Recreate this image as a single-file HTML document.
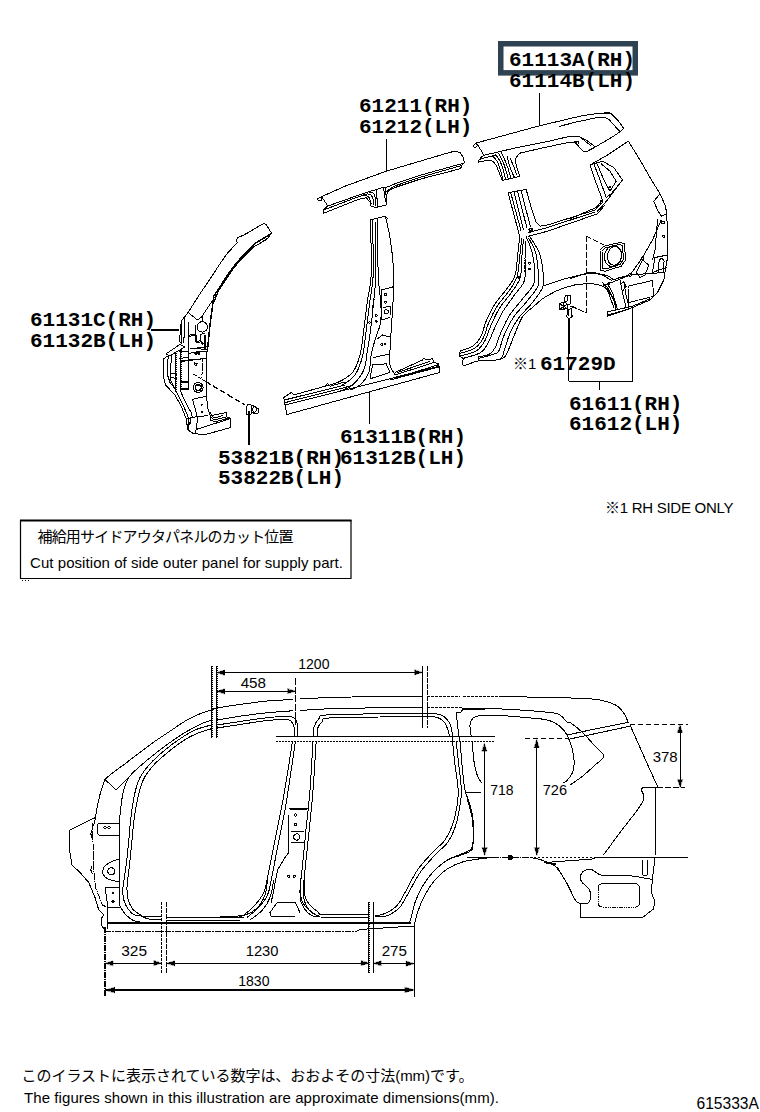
<!DOCTYPE html>
<html lang="ja">
<head>
<meta charset="utf-8">
<title>615333A</title>
<style>
html,body{margin:0;padding:0;background:#fff;}
body{width:760px;height:1112px;overflow:hidden;position:relative;}
svg{position:absolute;left:0;top:0;display:block;}
.pn{font-family:"Liberation Mono","DejaVu Sans Mono",monospace;font-weight:bold;font-size:21px;fill:#000;}
.sn{font-family:"Liberation Sans","Noto Sans CJK JP",sans-serif;font-size:15px;fill:#000;}
.jp{font-family:"Liberation Sans","Noto Sans CJK JP",sans-serif;font-size:15px;fill:#000;}
.dm{font-family:"Liberation Sans",sans-serif;font-size:15px;fill:#000;}
.ln{fill:none;stroke:#000;stroke-width:1;shape-rendering:crispEdges;stroke-linejoin:round;stroke-linecap:round;}
</style>
</head>
<body>
<svg width="760" height="1112" viewBox="0 0 760 1112">
<rect x="0" y="0" width="760" height="1112" fill="#fff"/>
<g id="labels">
<rect x="500.75" y="43.75" width="134.5" height="29.1" fill="none" stroke="#2e4251" stroke-width="5.5"/>
<text class="pn" x="509" y="66">61113A(RH)</text>
<text class="pn" x="509" y="87">61114B(LH)</text>
<text class="pn" x="359" y="112">61211(RH)</text>
<text class="pn" x="359" y="133">61212(LH)</text>
<text class="pn" x="30" y="326">61131C(RH)</text>
<text class="pn" x="30" y="347">61132B(LH)</text>
<text class="pn" x="340" y="443">61311B(RH)</text>
<text class="pn" x="218" y="464">53821B(RH)</text>
<text class="pn" x="340" y="464">61312B(LH)</text>
<text class="pn" x="218" y="484">53822B(LH)</text>
<text class="sn" x="513" y="369">※1</text>
<text class="pn" x="540" y="370">61729D</text>
<text class="pn" x="569" y="409.5">61611(RH)</text>
<text class="pn" x="569" y="429.5">61612(LH)</text>
<text class="sn" x="605" y="512.5" textLength="128.5" lengthAdjust="spacing">※1 RH SIDE ONLY</text>
<path d="M20.5 520 V578.5 H351 V520" fill="none" stroke="#000" stroke-width="1.2"/>
<path d="M20 520.5 H351.5" fill="none" stroke="#000" stroke-width="2"/>
<path d="M22 580.5h1M25 580.5h1M28 580.5h1" stroke="#000" stroke-width="1" shape-rendering="crispEdges"/>
<text class="jp" x="37.5" y="542" textLength="256" lengthAdjust="spacing">補給用サイドアウタパネルのカット位置</text>
<text class="sn" x="30" y="567.5" textLength="313" lengthAdjust="spacing">Cut position of side outer panel for supply part.</text>
<text class="jp" x="21.5" y="1080.5" textLength="452" lengthAdjust="spacing">このイラストに表示されている数字は、おおよその寸法(mm)です。</text>
<text class="sn" x="24" y="1103" textLength="475" lengthAdjust="spacing">The figures shown in this illustration are approximate dimensions(mm).</text>
<text class="sn" x="696.5" y="1109" style="font-size:15.6px">615333A</text>
</g>
<g class="ln" id="apillar">
<path d="M152 330 L178 330" stroke-width="1.4"/>
<path d="M263.2 223.7 L256.8 227.4 L248.4 232.6 L242.1 235.8 L237.9 237.4 L236.3 240 L237.4 242.6 L227.4 253.2 L220 263.7 L210.5 278.4 L200 293.7 L188.4 312.1"/>
<path d="M263.2 223.7 L265.8 224.2 L271.6 233.2 L268.4 237.4 L265.3 240.5 L262.1 242.1"/>
<path d="M270.5 234.2 L263.2 238.4 L254.7 243.7 L245.3 253.2 L235.8 263.7 L227.4 275.3 L220 286.8 L213.7 296.3 L212.1 309 L210 324.7 L207.4 351" stroke-width="1.5"/>
<path d="M268.4 237.6 L262.1 242.1 L253.7 246.8 L244.2 256.3 L234.7 266.8 L226.8 278.4 L220 288.4 L215.8 295.8 L213.2 299.5 L202.6 315.3"/>
<path d="M217.4 294.2 L213.5 303"/>
<path d="M188.1 312.5 L181.2 321.2 L180.6 330 L179.4 341.2 L181.9 343.8"/>
<path d="M188.1 312.5 L197.5 320 L202.5 316.2"/>
<path d="M202.5 316.2 L202 321.2"/>
<path d="M206.9 352.5 L206.2 378.8 L206.2 395 L208.1 410 L211.2 417.5"/>
<path d="M207.4 326.9 L207.1 328.8 L206.1 330.4 L204.6 331.5 L202.7 332.1 L200.8 331.9 L199.1 331 L197.8 329.6 L197.1 327.8 L197.1 325.9 L197.8 324.1 L199.1 322.7 L200.8 321.9 L202.7 321.7 L204.6 322.2 L206.1 323.4 L207.1 325Z"/>
<path d="M181.9 322.5 L181.9 342.5"/>
<path d="M185 316.2 L184.4 337.5"/>
<path d="M188.1 322.5 L188.1 360 L188.5 387.5"/>
<path d="M188.8 336.2 L196.2 335.6 L196.9 342.5 L201.2 341.9"/>
<path d="M190 348.1 L206.2 349.4"/>
<path d="M180 361.2 L188.8 360 L202.5 358.8"/>
<path d="M202.5 358.8 L201.9 377.5" stroke-dasharray="3 1.5"/>
<path d="M195 331.2 L195.6 341.2"/>
<path d="M205 335 L205.6 350"/>
<path d="M191.2 352.5 L205 351.2"/>
<path d="M196.4 353.8 L196.3 354.2 L195.9 354.5 L195.4 354.5 L195 354.2 L194.8 353.8 L195 353.3 L195.4 353 L195.9 353 L196.3 353.3Z"/>
<path d="M199.6 353.5 L199.4 354 L199 354.3 L198.5 354.3 L198.1 354 L197.9 353.5 L198.1 353 L198.5 352.7 L199 352.7 L199.4 353Z"/>
<path d="M196.6 364.4 L196.4 365 L195.9 365.3 L195.3 365.3 L194.8 365 L194.6 364.4 L194.8 363.8 L195.3 363.4 L195.9 363.4 L196.4 363.8Z"/>
<path d="M184.7 323.7 L183.7 342.6"/>
<path d="M190 348.9 L207.4 346.8"/>
<path d="M189.5 353.2 L207.4 351.1"/>
<path d="M179.5 351.1 L187.9 351.1"/>
<path d="M179.5 358.4 L187.9 357.4"/>
<path d="M180 361.6 L205.8 358.4"/>
<path d="M188.4 335.3 L195.3 334.2 L196.3 341.6 L200.5 340.5 L200.5 334.2 L204.7 333.7"/>
<path d="M195.3 325.8 L195.8 334.2"/>
<path d="M204.7 335.3 L204.2 348.9"/>
<path d="M170 373.2 L176.3 374.2"/>
<path d="M170 377.4 L176.3 378.4"/>
<path d="M180.5 382.6 L187.9 381.6"/>
<path d="M181.6 388.9 L188.4 388.9"/>
<path d="M203.2 343.2 L203 343.7 L202.6 344 L202 344 L201.6 343.7 L201.4 343.2 L201.6 342.6 L202 342.3 L202.6 342.3 L203 342.6Z"/>
<path d="M197 353.7 L196.9 354.1 L196.5 354.3 L196.1 354.3 L195.7 354.1 L195.6 353.7 L195.7 353.3 L196.1 353 L196.5 353 L196.9 353.3Z"/>
<path d="M199.3 353.2 L199.2 353.6 L198.8 353.8 L198.4 353.8 L198.1 353.6 L197.9 353.2 L198.1 352.7 L198.4 352.5 L198.8 352.5 L199.2 352.7Z"/>
<path d="M194.2 362.6 L197.4 363.7 L196.3 365.3"/>
<path d="M196.3 391.1 L201.6 390.5"/>
<path d="M197.9 385.3 L201.6 385.8 L201.6 388.9"/>
<path d="M166.2 353.8 L180 344.4 L185 346.9 L171.2 355 L167.5 355 L166.2 353.8"/>
<path d="M167.5 356.2 L163.8 358.8 L163.1 375 L165.6 385 L175 395 L181.2 406.2 L186.2 418.8"/>
<path d="M168.1 356.2 L167.5 375 L170 382.5 L176.2 390"/>
<path d="M171.2 355 L170.6 380 L176.9 392.5"/>
<path d="M175.5 353V392" stroke-linecap="butt"/>
<path d="M176 353.5h1M176 355.5h1M176 357.5h1M176 359.5h1M176 361.5h1M176 363.5h1M176 365.5h1M176 367.5h1M176 369.5h1M176 371.5h1M176 373.5h1M176 375.5h1M176 377.5h1M176 379.5h1M176 381.5h1M176 383.5h1M176 385.5h1M176 387.5h1M176 389.5h1M176 391.5h1" stroke-linecap="butt"/>
<path d="M180.5 350V390" stroke-linecap="butt"/>
<path d="M181 350.5h1M181 352.5h1M181 354.5h1M181 356.5h1M181 358.5h1M181 360.5h1M181 362.5h1M181 364.5h1M181 366.5h1M181 368.5h1M181 370.5h1M181 372.5h1M181 374.5h1M181 376.5h1M181 378.5h1M181 380.5h1M181 382.5h1M181 384.5h1M181 386.5h1M181 388.5h1" stroke-linecap="butt"/>
<path d="M180 381.2 L188.5 382.5"/>
<path d="M180 390 L188.5 389.4"/>
<path d="M176.9 392.5 L182.5 403.8 L187.5 415 L189.4 423.8"/>
<path d="M180 390 L186.2 403.8 L191.2 412.5 L192.5 417.5"/>
<path d="M186.2 418.8 L186.9 425 L188.1 430 L192.5 433.1 L203.8 435 L230.6 427.5 L230.6 418.1 L226.2 416.9 L226.2 412.5 L211.2 415.6"/>
<path d="M188.1 418.8 L188.1 430"/>
<path d="M186.2 418.8 L190 418.1 L190.6 423.8 L186.9 425"/>
<path d="M195 432.5 L196.2 429.4 L230 418.8"/>
<path d="M197.5 418.8 L196.2 429.4"/>
<path d="M211.2 417.5 L213.8 420 L226.2 416.9"/>
<path d="M210 412.5 L213.8 418.1 L222.5 415.6"/>
<path d="M211.2 415.6 L210 420 L215 421.9 L228.8 418.1"/>
<path d="M203.1 387.5 L202.8 389.3 L201.8 390.9 L200.4 392 L198.6 392.5 L196.8 392.3 L195.1 391.5 L193.9 390.1 L193.2 388.4 L193.2 386.6 L193.9 384.9 L195.1 383.5 L196.8 382.7 L198.6 382.5 L200.4 383 L201.8 384.1 L202.8 385.7Z"/>
<path d="M201.1 387.5 L200.7 389 L199.6 390.1 L198.1 390.5 L196.6 390.1 L195.5 389 L195.1 387.5 L195.5 386 L196.6 384.9 L198.1 384.5 L199.6 384.9 L200.7 386Z"/>
<path d="M206.2 396.2 L192.5 399.4"/>
<path d="M192.5 399.4 L196.2 412.5 L197.5 418.1"/>
<path d="M190 417.5 L207.5 415.6"/>
<path d="M202.7 405 L202.5 405.5 L202.1 405.8 L201.6 405.8 L201.2 405.5 L201.1 405 L201.2 404.5 L201.6 404.2 L202.1 404.2 L202.5 404.5Z"/>
<path d="M202.7 411.9 L202.5 412.3 L202.1 412.6 L201.6 412.6 L201.2 412.3 L201.1 411.9 L201.2 411.4 L201.6 411.1 L202.1 411.1 L202.5 411.4Z"/>
<path d="M193.8 374.4 L205 381.2" stroke-dasharray="3 2"/>
<path d="M205.8 381.6 L245 405" stroke-width="1.3" stroke-dasharray="5 3.5"/>
<path d="M246 414 L246 407 L248 404.5 L251 404.5 L251 414 L246 414"/>
<path d="M251 405 L256 407 L258.5 409 L258 413 L255 414 L252 412"/>
<path d="M256.3 409.5 L256 410.9 L255.2 411.9 L254.2 412.1 L253.3 411.5 L252.8 410.2 L252.8 408.8 L253.3 407.5 L254.2 406.9 L255.2 407.1 L256 408.1Z"/>
<path d="M249 412 L249 444" stroke-width="2"/>
</g>
<g class="ln" id="roofrail">
<path d="M386.2 139.5 L386.2 171.2"/>
<path d="M317.5 198.8 L322.5 196.2 L345 186.2 L386.2 171.2 L420 161.2 L445 153.8 L455.2 151 L460.5 153 L463.8 158.2 L464.2 163 L461.8 165.5 L461 167.5 L460 168.8"/>
<path d="M317.7 199.3 L319.7 197.4 L322.1 198.2 L321.3 200.5 L318.6 200.8 L317.7 199.3"/>
<path d="M322.1 197.4 C322.6 198.2 324.3 200.7 325.3 202.1 C326.2 203.6 327.2 205.4 327.6 206.1"/>
<path d="M327.6 206.1 L323.7 210 L323.7 213.2"/>
<path d="M327.6 206.1 L360 194.7 L369.5 191.4 L376.6 189.5"/>
<path d="M323.7 210 L360 196.1 L366.3 195.3 L369.5 197.7 L371.1 203.7"/>
<path d="M323.7 213.2 L358.4 199.3 L366.3 197.7 L370.3 202.4 L371.1 206.8 L377.4 207.2 L386.8 204.8 L386.1 195.8 L385.3 187.9"/>
<path d="M363.2 194.2 C364.2 194.2 367.9 193.7 369.5 194.2 C371.1 194.7 372 195.7 372.6 197.4 C373.3 199.1 373.3 203.3 373.4 204.5"/>
<path d="M369.5 192.3 C370.1 192.5 372.5 192.4 373.4 193.3 C374.3 194.1 374.7 195.4 375 197.4 C375.3 199.4 375.4 203.9 375.5 205.3"/>
<path d="M376.6 189.5 L377.4 206.8"/>
<path d="M376.6 189.5 L383.7 187.1 L385.3 187.9"/>
<path d="M383.7 187.1 L384.5 195.8 L386.8 204.5"/>
<path d="M386.1 195.8 L388.4 190.7 L394.7 187.6 L420 179.2 L460 168.8"/>
<path d="M385.3 187.9 L394.7 183.9 L420 175.3 L464.2 163"/>
<path d="M386.5 191.4 L394.7 186 L420 177.3 L461.8 165.5"/>
</g>
<g class="ln" id="bpillar">
<path d="M369.5 391.2 L369.5 423.2"/>
<path d="M370 220 L385 216.2 L387.5 218.8"/>
<path d="M385.5 217 C386.2 220.4 388.8 229.9 390 237.5 C391.2 245.1 392.4 254.2 393 262.5 C393.6 270.8 393.8 279.6 393.8 287.5 C393.7 295.4 392.9 302.9 392.5 310 C392.1 317.1 391.7 323.3 391.2 330 C390.8 336.7 390.2 344.2 390 350 C389.8 355.8 389.2 360.8 390 365 C390.8 369.2 394.2 373.3 395 375"/>
<path d="M370.5 220 C370.6 229.2 371.8 261.7 371.2 275 C370.8 288.3 368.8 290.8 367.5 300 C366.2 309.2 365 320.8 363.8 330 C362.5 339.2 361.9 347.9 360 355 C358.1 362.1 356.2 367.9 352.5 372.5 C348.8 377.1 342.9 380 337.5 382.5 C332.1 385 322.9 386.7 320 387.5"/>
<path d="M372.5 220 C372.6 229.2 373.7 261.7 373.2 275 C372.8 288.3 371.2 290.8 370 300 C368.8 309.2 367.5 320.6 366.2 330 C365 339.4 364.4 348.8 362.5 356.2 C360.6 363.8 358.3 370.2 355 375 C351.7 379.8 344.6 383.3 342.5 385"/>
<path d="M375 220 C375.1 229.2 376 261.7 375.8 275 C375.5 288.3 374.5 291.7 373.8 300 C373 308.3 372.3 316.7 371.2 325 C370.2 333.3 368.8 342.5 367.5 350 C366.2 357.5 366.2 364.2 363.8 370 C361.2 375.8 356.5 381.5 352.5 385 C348.5 388.5 342.1 390.2 340 391.2"/>
<path d="M377.5 220 C377.6 229.2 377.8 262.5 378.2 275 C378.7 287.5 379.5 288.8 380 295 C380.5 301.2 381.2 307.5 381.2 312.5 C381.2 317.5 381 320.4 380 325 C379 329.6 376.5 335 375 340 C373.5 345 372.3 349.6 371.2 355 C370.2 360.4 370.6 367.5 368.8 372.5 C366.9 377.5 363.1 382.1 360 385 C356.9 387.9 351.7 389.2 350 390"/>
<path d="M381.2 290 L392.5 287"/>
<path d="M381.2 290 L382 320 L390 317.5"/>
<path d="M386.5 294.5 L386.3 295.1 L385.8 295.5 L385.2 295.5 L384.7 295.1 L384.5 294.5 L384.7 293.9 L385.2 293.5 L385.8 293.5 L386.3 293.9Z"/>
<path d="M386.5 302 L386.3 302.6 L385.8 303 L385.2 303 L384.7 302.6 L384.5 302 L384.7 301.4 L385.2 301 L385.8 301 L386.3 301.4Z"/>
<path d="M388.4 311.8 L388 313 L386.9 313.8 L385.6 313.8 L384.5 313 L384.1 311.8 L384.5 310.5 L385.6 309.7 L386.9 309.7 L388 310.5Z"/>
<path d="M383.8 307.5 L390 306.2 L390.5 315"/>
<path d="M370.4 322.5 L370.2 323 L369.8 323.4 L369.2 323.4 L368.8 323 L368.6 322.5 L368.8 322 L369.2 321.6 L369.8 321.6 L370.2 322Z"/>
<path d="M377.1 315.5 L377 316 L376.5 316.4 L376 316.4 L375.5 316 L375.4 315.5 L375.5 315 L376 314.6 L376.5 314.6 L377 315Z"/>
<path d="M377.1 321.2 L377 321.8 L376.5 322.1 L376 322.1 L375.5 321.8 L375.4 321.2 L375.5 320.7 L376 320.4 L376.5 320.4 L377 320.7Z"/>
<path d="M377.5 338.8 L382.5 335 L390 337"/>
<path d="M373.8 357.5 L390 353.8"/>
<path d="M382.6 344.5 L382.4 345 L382 345.3 L381.5 345.3 L381.1 345 L380.9 344.5 L381.1 344 L381.5 343.7 L382 343.7 L382.4 344Z"/>
<path d="M385.8 344 L385.6 344.5 L385.2 344.8 L384.8 344.8 L384.4 344.5 L384.2 344 L384.4 343.5 L384.8 343.2 L385.2 343.2 L385.6 343.5Z"/>
<path d="M372.5 365 L386.2 363.8 L390 372.5 L370 378.8 L372.5 365"/>
<path d="M375 295 L372.5 307.5" stroke-dasharray="1 1"/>
<path d="M283.8 397.5 L291.2 392.5 L293.8 395 L325 386.2 L327.5 383.8 L330 386.2 L345 382"/>
<path d="M395 372.5 L422.5 360 L423.8 358 L426.2 360 L432.5 358.8 L433.8 362.5 L438.8 363.8 L439.5 372.5 L287 414.5 L285 405 L283.8 397.5"/>
<path d="M285 405 L370 383.8 L438.8 366.2"/>
<path d="M284.5 400 L345 385"/>
<path d="M285.5 402.5 L352.5 385.5"/>
<path d="M395 375 L433.8 362.5"/>
<path d="M396.2 378 L437.5 365"/>
<path d="M390 380 L438.8 367"/>
<path d="M397.5 372.5 L430 361.2"/>
</g>
<g class="ln" id="quarter_upper">
<path d="M539.5 93 L539.5 125.7"/>
<path d="M475.5 143.2 L539.5 125.8 L580 116.2 L600 113 L610 113 L604 112 L611.2 113.7 L618.4 120.9 L623.5 128.2 L621.3 131 L612.6 136.8 L595.3 147 L590 150"/>
<path d="M475.5 143.2 L473.4 145.8 L474.5 147.4 L476.6 146.8 L477.6 144.7 L475.5 143.2"/>
<path d="M477.6 144.7 C478.2 145.6 479.7 148.2 480.8 150 C481.8 151.8 483.4 154.4 483.9 155.3"/>
<path d="M483.9 155.3 L480.8 157.4 L480.8 158.9 L492.4 155.8 L495.5 154.7"/>
<path d="M478.7 160.5 L480.8 158.9"/>
<path d="M483.9 155.3 L499.7 151.6 L517.6 147.4 L545 142.1 L570.7 136.1 L579.3 136.6 L588 141.2 L595.3 147"/>
<path d="M559.1 126.4 L577.9 121.6 L595.3 118 L604 117 L609 119.5 L614.8 126 L619.6 131.3"/>
<path d="M579.3 136.6 L590.9 145.5"/>
<path d="M478.7 160.5 L478.7 162.1 L489.2 160 L493.4 161.6 L496.6 165.8 L499.7 174.2 L502.4 180.5 L519.7 176.3 L517.6 170 L515.5 161.6 L516.1 157.4 L519.7 153.2 L540 148.5 L567.8 142.6 L575.7 141.9 L577.9 145.5 L583.7 152 L587.3 151.3 L593 148"/>
<path d="M492.4 155.8 C493.1 156.6 495.4 158.5 496.6 160.5 C497.8 162.5 498.7 164.7 499.7 167.9 C500.8 171.1 502.4 177.5 502.9 179.5"/>
<path d="M495.5 154.7 C496.2 155.7 498.5 158.2 499.7 160.5 C501 162.9 501.9 165.9 502.9 168.9 C503.9 172 505.1 177.3 505.5 178.9"/>
<path d="M498.7 153.7 C499.3 154.8 501.2 158 502.4 160.5 C503.5 163.1 504.6 166 505.5 168.9 C506.5 171.9 507.7 176.8 508.2 178.4"/>
<path d="M501.3 152.6 C501.9 153.9 503.9 157.8 505 160.5 C506.1 163.2 507.2 166.1 508.2 168.9 C509.1 171.8 510.4 176.4 510.8 177.9"/>
<path d="M507.1 156.3 C507.5 157.7 508.3 161.9 509.2 164.7 C510.1 167.5 511.5 171.1 512.4 173.2 C513.2 175.3 514.1 176.7 514.5 177.4"/>
<path d="M510.3 158.4 C510.8 159.6 512.4 163.2 513.4 165.8 C514.5 168.4 516.1 172.8 516.6 174.2"/>
<path d="M578.7 142.8 L578.4 143.7 L577.7 144.2 L576.7 144.2 L576 143.7 L575.7 142.8 L576 141.9 L576.7 141.4 L577.7 141.4 L578.4 141.9Z"/>
</g>
<g class="ln" id="quarter">
<path d="M508.1 192.8 L526 189.4"/>
<path d="M508.1 192.8 L518.3 231.2 L519.7 236.4"/>
<path d="M510.6 192.3 L520.9 230.4"/>
<path d="M514 191.6 L523.4 229.5"/>
<path d="M517.5 191.1 L526.9 227.8"/>
<path d="M520.9 190.2 L530.3 226.1"/>
<path d="M529.4 228.7 L532 228.3 L532.3 230.9 L529.8 231.2 L529.4 228.7"/>
<path d="M526.2 189.5 L531.2 207.5 L536.2 222.5 L540 226.2 L547.5 225 L595 210 L602.5 202.5 L602.5 200"/>
<path d="M528.8 236.2 L547.5 231.2 L597.5 213.8 L605 205 L597.5 211.2 L607.5 200 L622.5 180"/>
<path d="M528.8 232.5 L547.5 227.5 L595 212"/>
<path d="M531.2 229.5 L531 230.2 L530.4 230.6 L529.6 230.6 L529 230.2 L528.8 229.5 L529 228.8 L529.6 228.4 L530.4 228.4 L531 228.8Z"/>
<path d="M590 165 L607.5 155 L626.2 142.5 L628.8 141.2 L630 143.8 L640 160 L650 177.5 L660 193.8 L653.8 201.2 L657.5 210 L661.2 216.2 L666.2 213.8 L667.5 225 L668 255 L666.2 265 L663.8 280 L657.5 292.5 L650 300 L632.5 307.5 L607.5 316.2 L607 312 L617.5 309.5 L612.5 297.5 L607.5 287.5 L602.5 282.5"/>
<path d="M660 193.8 L665 205 L667 213.8"/>
<path d="M590 165 L595 180 L602.5 200 L596.2 207.5 L570 218.8"/>
<path d="M593.8 163.8 L600 180 L606.2 197.5 L611.2 193.8 L622.5 180 L613.8 167.5 L602.5 161.2 L590 165"/>
<path d="M597.5 164.5 L603.8 180 L610 191.2 L616.2 181.2 L610 171.2 L601.2 163.8"/>
<path d="M611 187 L610.8 187.6 L610.3 188 L609.7 188 L609.2 187.6 L609 187 L609.2 186.4 L609.7 186 L610.3 186 L610.8 186.4Z"/>
<path d="M602.6 202 L602.4 202.8 L601.7 203.3 L600.8 203.3 L600.1 202.8 L599.9 202 L600.1 201.2 L600.8 200.7 L601.7 200.7 L602.4 201.2Z"/>
<path d="M586.2 236.2 L603.8 245" stroke-dasharray="5 3"/>
<path d="M586.2 236.2 L586.2 312.5 L570 306.2" stroke-dasharray="5 3"/>
<path d="M600 250 L603.8 246.2 L620 242.5 L624.5 243.8 L625.5 260 L621.2 266.2 L605 271.2 L600.5 270 L600 250"/>
<path d="M602 251.2 L605 248 L619.5 244.5 L622.5 245.5 L623.5 259.5 L620 264.5 L605.5 269 L602.5 268 L602 251.2"/>
<path d="M621.4 257.7 L620.8 259.9 L619.8 261.9 L618.6 263.7 L617 265.1 L615.3 266.1 L613.5 266.6 L611.6 266.7 L609.8 266.2 L608.2 265.3 L606.8 264 L605.7 262.3 L604.9 260.3 L604.5 258.2 L604.5 255.9 L604.9 253.7 L605.6 251.5 L606.8 249.7 L608.2 248.1 L609.8 246.9 L611.6 246.1 L613.4 245.8 L615.3 246 L617 246.7 L618.5 247.8 L619.8 249.3 L620.8 251.2 L621.4 253.2 L621.6 255.5Z"/>
<path d="M621.4 257 L620.8 259.2 L619.8 261.2 L618.6 262.9 L617.1 264.1 L615.4 264.9 L613.7 265.2 L612 264.9 L610.5 264.1 L609.2 262.8 L608.2 261 L607.6 259 L607.4 256.8 L607.6 254.5 L608.2 252.3 L609.2 250.3 L610.4 248.6 L611.9 247.4 L613.6 246.6 L615.3 246.3 L617 246.6 L618.5 247.4 L619.8 248.7 L620.8 250.5 L621.4 252.5 L621.6 254.7Z"/>
<path d="M570 278.8 C573.3 277.7 584.6 273.1 590 272.5 C595.4 271.9 599 273.8 602.5 275 C606 276.2 608.3 279.6 611.2 280 C614.2 280.4 616.9 278.3 620 277.5 C623.1 276.7 628.3 275.4 630 275"/>
<path d="M602.5 282.5 L607.5 290 L613.8 307.5"/>
<path d="M607.5 283.8 L612.5 292.5 L617.5 309.5"/>
<path d="M610 283.8 L609.7 284.5 L609.1 284.9 L608.4 284.9 L607.8 284.5 L607.5 283.8 L607.8 283 L608.4 282.6 L609.1 282.6 L609.7 283Z"/>
<path d="M661.2 220 L652.5 240 L642.5 257.5 L630 275"/>
<path d="M657.5 220 L655 250 L652.5 260"/>
<path d="M667.5 255 L655 257.5 L652.5 272.5 L666.2 267.5"/>
<rect x="658.8" y="258.8" width="5" height="14" rx="2.5" ry="2.5" transform="rotate(4 661.2 265)"/>
<path d="M642.5 260 L648.8 265 L645 275 L640 277.5 L636.2 272.5 L642.5 260"/>
<path d="M664.5 222.5 L664.2 223.4 L663.5 223.9 L662.5 223.9 L661.8 223.4 L661.5 222.5 L661.8 221.6 L662.5 221.1 L663.5 221.1 L664.2 221.6Z"/>
<path d="M665 236.2 L664.7 237 L664.1 237.4 L663.4 237.4 L662.8 237 L662.5 236.2 L662.8 235.5 L663.4 235.1 L664.1 235.1 L664.7 235.5Z"/>
<path d="M643.7 258.8 L643.5 259.5 L642.9 259.9 L642.1 259.9 L641.5 259.5 L641.3 258.8 L641.5 258 L642.1 257.6 L642.9 257.6 L643.5 258Z"/>
<path d="M631.4 275 L631.1 275.8 L630.4 276.3 L629.6 276.3 L628.9 275.8 L628.6 275 L628.9 274.2 L629.6 273.7 L630.4 273.7 L631.1 274.2Z"/>
<path d="M630 275 L663.8 272.5"/>
<path d="M620 280 L622.5 292.5 L626.2 307.5"/>
<path d="M623.8 281.2 L625.5 292.5 L628.8 306.2"/>
<path d="M628 286.2 L652.5 280.5 L653.8 296.2 L628.8 302.5 L628 286.2" stroke-dasharray="2 1"/>
<path d="M620 283.8 L623.8 282 L626.2 286.2 L622.5 291.2"/>
<path d="M607 312 L632.5 306.2 L650 298.8"/>
<path d="M632.5 307.5 L632.5 381"/>
<path d="M519.7 236.4 C519.3 239.8 518.3 250.3 517.5 256.9 C516.7 263.4 516.8 270.2 514.9 275.6 C513.1 281.1 509.8 284.5 506.4 289.3 C502.9 294.1 497.8 299.3 494.4 304.7 C491 310.1 488.1 316.4 485.9 321.8 C483.6 327.2 483 333 480.7 337.1 C478.5 341.3 475.6 344.2 472.2 346.5 C468.8 348.8 462.2 350.1 460.2 350.8"/>
<path d="M521.7 238.1 C521.4 241.2 520.5 250.5 519.7 256.9 C518.9 263.3 518.9 270.8 517.1 276.5 C515.3 282.2 512.3 286 508.9 291 C505.6 296 500.4 301 497 306.4 C493.6 311.8 490.7 318.2 488.4 323.5 C486.2 328.7 485.6 333.9 483.3 338 C481 342.1 478.7 345.7 474.8 348.2 C470.9 350.8 462.4 352.5 459.9 353.4"/>
<path d="M523.4 239.8 C523.2 242.9 522.3 252.2 521.7 258.6 C521.2 265 521.9 272.4 520 278.2 C518.2 284 514 288.6 510.6 293.6 C507.2 298.6 502.8 302.8 499.5 308.1 C496.3 313.4 493.4 319.8 491 325.2 C488.6 330.6 487.4 336.3 485 340.5 C482.6 344.8 480.6 348.2 476.5 350.8 C472.3 353.4 463 355.1 460.2 355.9"/>
<path d="M525.1 241.5 C525.3 244.3 526.1 252 526 258.6 C525.9 265.1 526.1 274.8 524.3 280.8 C522.4 286.7 518.5 289.3 514.9 294.4 C511.3 299.6 506.4 305.8 502.9 311.5 C499.5 317.2 496.8 323.5 494.4 328.6 C492 333.7 490.7 338.3 488.4 342.3 C486.2 346.2 485 349.8 480.7 352.5 C476.5 355.2 465.8 357.5 462.8 358.5"/>
<path d="M526 236.4 C527 238.9 530.6 246.3 532 251.7 C533.4 257.1 534.3 263.4 534.5 268.8 C534.8 274.2 535.5 279.3 533.7 284.2 C531.8 289 527.4 292.7 523.4 297.8 C519.5 303 513.6 308.9 509.8 314.9 C505.9 320.9 502.8 328.3 500.4 333.7 C498 339.1 497.1 344 495.3 347.4 C493.4 350.8 492.1 352.6 489.3 354.2 C486.4 355.8 480 356.3 478.2 356.8"/>
<path d="M528.6 238.1 C529.7 240.3 533.8 246.6 535.4 251.7 C537 256.9 537.5 263.1 538 268.8 C538.4 274.5 539.8 280.5 538 285.9 C536.1 291.3 530.8 296.1 526.9 301.3 C522.9 306.4 517.7 311.2 514 316.6 C510.3 322 507.1 328.3 504.7 333.7 C502.2 339.1 501 345.8 499.5 349.1 C498.1 352.4 499.7 351.8 496.1 353.4 C492.6 354.9 481.2 357.6 478.2 358.5"/>
<path d="M530.3 237.2 C531.7 239.6 536.8 247 538.8 251.7 C540.8 256.4 541.5 259.7 542.2 265.4 C542.9 271.1 544.8 279.6 543.1 285.9 C541.4 292.2 536.1 297.6 532 303 C527.9 308.4 522 313.2 518.3 318.3 C514.6 323.5 512.1 328.6 509.8 333.7 C507.5 338.8 506.4 344.8 504.7 349.1 C502.9 353.4 503.9 357.3 499.5 359.3 C495.1 361.3 484.2 360 478.2 361 C472.2 362 466.1 365.7 463.7 365.3 C461.2 364.9 463.4 359.6 463.3 358.5"/>
<path d="M460.2 350.8 L459.4 355.9 L463.3 358.5"/>
<path d="M478.2 356.8 L478.2 361"/>
<path d="M525.1 255.1 L524.6 272.2" stroke-dasharray="1 1.5"/>
<path d="M530.3 263.2 L530.1 263.7 L529.7 264 L529.1 264 L528.7 263.7 L528.5 263.2 L528.7 262.6 L529.1 262.3 L529.7 262.3 L530.1 262.6Z"/>
<path d="M530.3 268.8 L530.1 269.3 L529.7 269.7 L529.1 269.7 L528.7 269.3 L528.5 268.8 L528.7 268.3 L529.1 268 L529.7 268 L530.1 268.3Z"/>
<path d="M519.3 277 L519.1 277.6 L518.6 278 L518 278 L517.5 277.6 L517.3 277 L517.5 276.4 L518 276.1 L518.6 276.1 L519.1 276.4Z"/>
<path d="M542.5 286.2 C546.2 285 557.5 280.8 565 278.8 C572.5 276.7 580.8 274.4 587.5 273.8 C594.2 273.1 600.8 274.2 605 275 C609.2 275.8 611.2 278.1 612.5 278.8"/>
<path d="M499.9 359.7 C500.8 359 503.8 358.3 505.5 355.9 C507.2 353.6 508.6 349.4 510.1 345.7 C511.7 342 512.8 338.6 514.9 333.7 C517 328.9 519.5 321.2 522.6 316.6 C525.7 312.1 529.8 309.7 533.7 306.4 C537.5 303.1 540.4 299.8 545.6 296.7 C550.9 293.5 558.4 289.7 565 287.5 C571.6 285.3 578.8 284 585 283.8 C591.2 283.5 597.9 284 602.5 286.2 C607.1 288.5 610.2 293.5 612.5 297.5 C614.8 301.5 615.6 307.9 616.2 310"/>
<path d="M602.5 286.2 L630 275"/>
<path d="M607.5 315 L630 308.8"/>
<path d="M607.5 311.2 L607.5 315.5"/>
<path d="M564.3 297.6 L566.3 295.3 L570.7 295.3 L570.7 303.9 L567.9 304.7"/>
<path d="M564.3 297.6 L564.7 302 L567.9 300.8 L567.5 296.1"/>
<path d="M559.2 303.6 L564.7 302 L567.9 304.7 L567.9 308.7 L559.2 309.5 L559.2 303.6"/>
<path d="M559.6 303.9 L567.5 308.7"/>
<path d="M560 309.1 L567.1 304.3"/>
<path d="M563.2 302.8 L563.6 309.1"/>
<path d="M567.1 309.5 L571.8 308.7 L571.8 315.4 L572.6 316.2 L569.1 318.9 L565.9 315.8 L567.1 315 L567.1 309.5"/>
<path d="M568.7 311.1 L568.7 315" stroke-width="1.4"/>
<path d="M569 318.5 L569 353" stroke-width="2"/>
<path d="M568.5 353 L568.5 381"/>
<path d="M571.8 306.2 L586.8 313" stroke-dasharray="5 3.5"/>
<path d="M568.5 381 L632.5 381"/>
<path d="M599.5 381 L599.5 390"/>
</g>
<g class="ln" id="car">
<path d="M105 779.5 C105.8 778.8 106.7 777.6 110 775 C113.3 772.4 120 767.5 125 763.8 C130 760 135 756.2 140 752.5 C145 748.8 150 744.8 155 741.2 C160 737.7 165 734.6 170 731.2 C175 727.9 180 724.2 185 721.2 C190 718.3 195.6 715.6 200 713.8 C204.4 711.9 208.4 711 211.2 710 C214.1 709 212.2 708.9 217 708 C221.8 707.1 232 705.6 240 704.5 C248 703.4 256.2 702.1 265 701.2 C273.8 700.4 287.9 699.8 292.5 699.5"/>
<path d="M300 699 C305 698.8 316.7 697.9 330 697.5 C343.3 697.1 364.6 696.7 380 696.5 C395.4 696.3 415.4 696.5 422.5 696.5"/>
<path d="M427.5 696.5 L460 696 L500 696.2" stroke-dasharray="2 2"/>
<path d="M500 696.5 C508.3 696.7 535 697.1 550 697.5 C565 697.9 580.8 698.1 590 698.8 C599.2 699.4 600.4 700 605 701.2 C609.6 702.5 614.2 704 617.5 706.2 C620.8 708.5 623.2 712.3 625 715 C626.8 717.7 627.5 721.2 628 722.5"/>
<path d="M105 779.5 L116.2 790 L128.8 777"/>
<path d="M105 779.5 L100.5 792.5 L97.5 805 L95.5 817.5 L80 825 L70 830 L69.2 840 L69.5 850 L72 865 L80 872.5 L88.8 882.5 L95 897.5 L98.8 910 L103.8 915 L101.2 918.8 L102 926.2 L105 930"/>
<path d="M95.5 817.5 L94.5 822.5 L92.5 827.5"/>
<path d="M211.2 720 C209.4 720.8 204.4 722.4 200 724.5 C195.6 726.6 190 729.5 185 732.5 C180 735.5 175 739 170 742.5 C165 746 160 749.8 155 753.8 C150 757.7 144.4 762.3 140 766.2 C135.6 770.2 131.5 773.5 128.8 777.5 C126 781.5 125.1 784.6 123.8 790 C122.4 795.4 121.2 803.3 120.5 810 C119.8 816.7 119.7 814.2 119.5 830 C119.3 845.8 119.5 892.5 119.5 905"/>
<path d="M217 720 C220.8 719.4 232 717.4 240 716.2 C248 715.1 256.2 713.9 265 713 C273.8 712.1 287.9 711.1 292.5 710.8"/>
<path d="M300 710.5 C305 710.2 316.7 709.2 330 708.8 C343.3 708.3 364.6 708 380 707.8 C395.4 707.5 415.4 707.1 422.5 707"/>
<path d="M380 707.8 L422.5 707.2" stroke-dasharray="2 2"/>
<path d="M427.5 707.5 L462.5 708" stroke-dasharray="2 2"/>
<path d="M211.2 725 C208.5 725.8 200.2 727.7 195 730 C189.8 732.3 185 735.4 180 738.8 C175 742.1 170 745.8 165 750 C160 754.2 154.2 759.2 150 763.8 C145.8 768.3 142.5 772.7 140 777.5 C137.5 782.3 136.5 786.2 135 792.5 C133.5 798.8 132.3 807.1 131.2 815 C130.2 822.9 129.6 831.7 128.8 840 C127.9 848.3 127.2 857.1 126.2 865 C125.3 872.9 123.4 881.7 123 887.5 C122.6 893.3 122.8 896.2 123.8 900 C124.7 903.8 126.9 907.5 128.8 910 C130.6 912.5 132.3 914 135 915 C137.7 916 140.6 916 145 916.2 C149.4 916.5 158.5 916.5 161.2 916.5"/>
<path d="M211.2 728.8 C208.8 729.6 201 731.7 196.2 733.8 C191.5 735.8 187.3 738.1 182.5 741.2 C177.7 744.4 172.3 748.5 167.5 752.5 C162.7 756.5 157.7 760.6 153.8 765 C149.8 769.4 146.2 774 143.8 778.8 C141.2 783.5 140.3 787.5 138.8 793.8 C137.2 800 135.6 808.5 134.5 816.2 C133.4 824 132.8 831.9 132 840 C131.2 848.1 130.3 857.1 129.5 865 C128.7 872.9 127.2 881.9 127 887.5 C126.8 893.1 127.1 895.2 128 898.8 C128.9 902.3 130.7 906.2 132.5 908.8 C134.3 911.2 136.2 912.1 138.8 913.8 C141.2 915.4 143.8 917.9 147.5 918.8 C151.2 919.6 159 919 161.2 919"/>
<path d="M217 725 C220.8 724.4 232 722.7 240 721.5 C248 720.3 257.1 718.9 265 718 C272.9 717.1 282.7 716.2 287.5 716.2 C292.3 716.2 292.1 716.8 293.8 718 C295.4 719.2 296.8 720.7 297.5 723.8 C298.2 726.8 297.9 734.2 298 736.2"/>
<path d="M217 728 C220.8 727.4 232 725.7 240 724.5 C248 723.3 257.3 721.6 265 720.8 C272.7 719.9 281.9 719.4 286.2 719.5 C290.6 719.6 290 720.2 291.2 721.5 C292.5 722.8 293.5 724.5 294 727 C294.5 729.5 294.4 734.7 294.5 736.2"/>
<path d="M276 736.5 L494.5 736.5"/>
<path d="M276 741.5 L494.5 741.5" stroke-dasharray="2 1"/>
<path d="M525 738.2 L568.8 738.2" stroke-dasharray="5 3"/>
<path d="M292.5 741.2 C291.9 745.2 290.4 754.8 288.8 765 C287.1 775.2 284.8 790 282.5 802.5 C280.2 815 277.5 827.5 275 840 C272.5 852.5 269.4 868.8 267.5 877.5 C265.6 886.2 265.8 887.9 263.8 892.5 C261.7 897.1 258.3 901.2 255 905 C251.7 908.8 246.7 912.9 243.8 915 C240.8 917.1 238.5 917.1 237.5 917.5"/>
<path d="M295.5 741.2 C294.8 746 293 758.5 291.2 770 C289.5 781.5 287.3 797.1 285 810 C282.7 822.9 279.8 835.8 277.5 847.5 C275.2 859.2 272.9 872.1 271.2 880 C269.6 887.9 269.6 890.4 267.5 895 C265.4 899.6 262.1 903.8 258.8 907.5 C255.4 911.2 249.4 915.4 247.5 917"/>
<path d="M313 741.2 C312.5 749.4 311.1 775.6 310 790 C308.9 804.4 307.5 815 306.2 827.5 C305 840 303.5 854.6 302.5 865 C301.5 875.4 300.2 883.8 300 890 C299.8 896.2 300 898.8 301.2 902.5 C302.5 906.2 305.2 910.1 307.5 912.5 C309.8 914.9 313.8 916.2 315 917"/>
<path d="M316.2 741.2 C315.7 749.4 314.1 775.6 313 790 C311.9 804.4 310.8 815 309.5 827.5 C308.2 840 306.5 854.6 305.5 865 C304.5 875.4 303.4 884 303.2 890 C303.1 896 303.4 897.7 304.5 901.2 C305.6 904.8 307.6 908.8 310 911.2 C312.4 913.8 317.3 915.4 318.8 916.2"/>
<path d="M313 736.2 C313.1 734.8 312.8 730.4 313.8 727.5 C314.7 724.6 316.7 720.8 318.8 718.8 C320.8 716.7 316 715.8 326.2 715 C336.5 714.2 364 714 380 713.8 C396 713.5 412.5 713.1 422.5 713.2 C432.5 713.4 435.8 713.4 440 714.5 C444.2 715.6 445.6 717.8 447.5 720 C449.4 722.2 450.4 724.8 451.2 727.5 C452.1 730.2 452.3 734.8 452.5 736.2"/>
<path d="M317 736.2 C317.2 734.8 317.1 730 318 727.5 C318.9 725 320.7 722.8 322.5 721.2 C324.3 719.7 319.2 718.7 328.8 718 C338.3 717.3 364.4 717.2 380 717 C395.6 716.8 412.9 716.4 422.5 716.5 C432.1 716.6 433.8 716.5 437.5 717.5 C441.2 718.5 442.8 720.4 444.5 722.5 C446.2 724.6 447.2 727.7 448 730 C448.8 732.3 449.2 735.2 449.5 736.2"/>
<path d="M290 808.8 L307 808.8" stroke-width="1.5"/>
<path d="M288.8 815 L288.8 852.5 L285 857.5 L277.5 870 L273.8 890 L271.2 902.5"/>
<path d="M291.2 831.2 L303.8 831.2"/>
<path d="M291.2 842.5 L303.8 842.5"/>
<path d="M299.9 837 L299.6 838.5 L298.6 839.6 L297.1 840.2 L295.6 840 L294.4 839.1 L293.6 837.8 L293.6 836.2 L294.4 834.9 L295.6 834 L297.1 833.8 L298.6 834.4 L299.6 835.5Z"/>
<path d="M296.7 815 L296.5 815.7 L295.9 816.1 L295.1 816.1 L294.5 815.7 L294.3 815 L294.5 814.3 L295.1 813.9 L295.9 813.9 L296.5 814.3Z"/>
<path d="M296.7 824.5 L296.5 825.2 L295.9 825.6 L295.1 825.6 L294.5 825.2 L294.3 824.5 L294.5 823.8 L295.1 823.4 L295.9 823.4 L296.5 823.8Z"/>
<path d="M289.8 876.2 L289.6 876.8 L289.1 877.2 L288.4 877.2 L287.9 876.8 L287.8 876.2 L287.9 875.7 L288.4 875.3 L289.1 875.3 L289.6 875.7Z"/>
<path d="M295.2 876.2 L295.1 876.8 L294.6 877.2 L293.9 877.2 L293.4 876.8 L293.2 876.2 L293.4 875.7 L293.9 875.3 L294.6 875.3 L295.1 875.7Z"/>
<path d="M270 912.5 L277.5 902 L295 902 L300 912.5"/>
<path d="M270 912.5 L271.2 916.2 L295 916.2"/>
<path d="M267.5 880 C267.1 882.5 266.7 890.4 265 895 C263.3 899.6 260.8 904.2 257.5 907.5 C254.2 910.8 251.2 913.4 245 915 C238.8 916.6 233.1 916.7 220 917 C206.9 917.3 175.2 917 166.2 917"/>
<path d="M273.8 880 C273.1 882.9 271.9 892.5 270 897.5 C268.1 902.5 265.8 906.2 262.5 910 C259.2 913.8 252.1 918.3 250 920"/>
<path d="M300.5 880 C300.5 882.5 299.8 890.6 300.5 895 C301.2 899.4 302.4 902.9 305 906.2 C307.6 909.6 313.8 913.2 316.2 915 C318.8 916.8 311.2 916.7 320 917 C328.8 917.3 360.6 917 368.8 917"/>
<path d="M305 880 C304.9 882.3 303.9 889.8 304.5 893.8 C305.1 897.7 306.4 900.6 308.8 903.8 C311.1 906.9 316.5 910.8 318.8 912.5 C321 914.2 314.2 913.8 322.5 914.2 C330.8 914.7 361 914.9 368.8 915"/>
<path d="M107.5 923 L220 923 L410 923 L409.5 922.5" stroke-width="1.6"/>
<path d="M105 931.2 L220 931.2 L356.2 931.2" stroke-dasharray="6 1.5 1 1.5"/>
<path d="M356.2 931.2 L360 929.5 L410 926.2 L414.2 926.2"/>
<path d="M166.2 917.5 L220 917.5 L243.8 917.5"/>
<path d="M166.2 920 L220 920 L240 920"/>
<path d="M92.5 823.8 L93.8 870 L95.5 887.5 L102.5 905 L107.5 907.5" stroke-dasharray="6 1.5 1 1.5"/>
<path d="M97 825 L98.8 823 L119.5 823"/>
<path d="M97 825 L97 833 L98.8 835 L119.5 835"/>
<path d="M106.2 827.5 L106 828 L105.4 828.4 L104.6 828.4 L104 828 L103.8 827.5 L104 827 L104.6 826.6 L105.4 826.6 L106 827Z"/>
<path d="M110.2 827.5 L110 828 L109.4 828.4 L108.6 828.4 L108 828 L107.8 827.5 L108 827 L108.6 826.6 L109.4 826.6 L110 827Z"/>
<path d="M114.8 871.2 L114.4 872.9 L113.3 874.2 L111.7 874.8 L110 874.6 L108.6 873.6 L107.8 872.1 L107.8 870.4 L108.6 868.9 L110 867.9 L111.7 867.7 L113.3 868.3 L114.4 869.6Z"/>
<path d="M119.5 858.8 C117.9 859.4 112.6 861 110 862.5 C107.4 864 104.9 865.6 103.8 867.5 C102.6 869.4 102.4 871.9 103 873.8 C103.6 875.6 104.8 877.4 107.5 878.8 C110.2 880.1 117.5 881.5 119.5 882"/>
<path d="M105 887.5 L119.5 887.5"/>
<path d="M105 887.5 L108 907.5"/>
<path d="M114.1 893 L113.9 893.6 L113.3 894 L112.7 894 L112.1 893.6 L111.9 893 L112.1 892.4 L112.7 892 L113.3 892 L113.9 892.4Z"/>
<path d="M114.1 901.2 L113.9 901.9 L113.3 902.3 L112.7 902.3 L112.1 901.9 L111.9 901.2 L112.1 900.6 L112.7 900.2 L113.3 900.2 L113.9 900.6Z"/>
<path d="M107.5 907.5 L119.5 907.5"/>
<path d="M107.5 907.5 L107.5 928.8" stroke-width="1.3"/>
<path d="M92 830 L90.8 833.8 L92 837.5"/>
<path d="M92 866.2 L90.8 870 L92.5 873.8"/>
<path d="M119.5 905 C120.4 906.5 122.8 911.2 125 913.8 C127.2 916.2 130 918.6 132.5 920 C135 921.4 138.8 921.7 140 922"/>
<path d="M211.5 666V738" stroke-linecap="butt"/>
<path d="M212 666.5h1M212 668.5h1M212 670.5h1M212 672.5h1M212 674.5h1M212 676.5h1M212 678.5h1M212 680.5h1M212 682.5h1M212 684.5h1M212 686.5h1M212 688.5h1M212 690.5h1M212 692.5h1M212 694.5h1M212 696.5h1M212 698.5h1M212 700.5h1M212 702.5h1M212 704.5h1M212 706.5h1M212 708.5h1M212 710.5h1M212 712.5h1M212 714.5h1M212 716.5h1M212 718.5h1M212 720.5h1M212 722.5h1M212 724.5h1M212 726.5h1M212 728.5h1M212 730.5h1M212 732.5h1M212 734.5h1M212 736.5h1" stroke-linecap="butt"/>
<path d="M216.5 666V738" stroke-linecap="butt"/>
<path d="M217 666.5h1M217 668.5h1M217 670.5h1M217 672.5h1M217 674.5h1M217 676.5h1M217 678.5h1M217 680.5h1M217 682.5h1M217 684.5h1M217 686.5h1M217 688.5h1M217 690.5h1M217 692.5h1M217 694.5h1M217 696.5h1M217 698.5h1M217 700.5h1M217 702.5h1M217 704.5h1M217 706.5h1M217 708.5h1M217 710.5h1M217 712.5h1M217 714.5h1M217 716.5h1M217 718.5h1M217 720.5h1M217 722.5h1M217 724.5h1M217 726.5h1M217 728.5h1M217 730.5h1M217 732.5h1M217 734.5h1M217 736.5h1" stroke-linecap="butt"/>
<path d="M217 672.5 L380 672.5 L422 672.5"/>
<path d="M217 691.2 L295 691.2"/>
<path d="M295.5 678.8 L295.5 725" stroke-dasharray="6 2.5"/>
<path d="M422.5 666V728" stroke-linecap="butt"/>
<path d="M427.5 666V728" stroke-linecap="butt" stroke-dasharray="5 1"/>
<path d="M217 672.5 L224.5 670.1 L224.5 674.9Z" fill="#000" stroke="#000" stroke-width="0.4"/>
<path d="M422 672.5 L414.5 674.9 L414.5 670.1Z" fill="#000" stroke="#000" stroke-width="0.4"/>
<path d="M217 691.2 L224.5 688.9 L224.5 693.6Z" fill="#000" stroke="#000" stroke-width="0.4"/>
<path d="M295 691.2 L287.5 693.6 L287.5 688.9Z" fill="#000" stroke="#000" stroke-width="0.4"/>
<path d="M105 927.5 L105 996.2" stroke-width="1.2" stroke-dasharray="5 1.5 1 1.5"/>
<path d="M161.5 902V973" stroke-linecap="butt" stroke-dasharray="3 1"/>
<path d="M166.5 902V973" stroke-linecap="butt" stroke-dasharray="5 1"/>
<path d="M105 963.2 L161.8 963.2"/>
<path d="M105.5 963.2 L113 960.9 L113 965.6Z" fill="#000" stroke="#000" stroke-width="0.4"/>
<path d="M161.2 963.2 L153.8 965.6 L153.8 960.9Z" fill="#000" stroke="#000" stroke-width="0.4"/>
<path d="M167 963.2 L220 963.2 L368.8 963.2"/>
<path d="M167 963.2 L174.5 960.9 L174.5 965.6Z" fill="#000" stroke="#000" stroke-width="0.4"/>
<path d="M368.8 963.2 L361.2 965.6 L361.2 960.9Z" fill="#000" stroke="#000" stroke-width="0.4"/>
<path d="M368.5 902V973" stroke-linecap="butt"/>
<path d="M369 902.5h1M369 904.5h1M369 906.5h1M369 908.5h1M369 910.5h1M369 912.5h1M369 914.5h1M369 916.5h1M369 918.5h1M369 920.5h1M369 922.5h1M369 924.5h1M369 926.5h1M369 928.5h1M369 930.5h1M369 932.5h1M369 934.5h1M369 936.5h1M369 938.5h1M369 940.5h1M369 942.5h1M369 944.5h1M369 946.5h1M369 948.5h1M369 950.5h1M369 952.5h1M369 954.5h1M369 956.5h1M369 958.5h1M369 960.5h1M369 962.5h1M369 964.5h1M369 966.5h1M369 968.5h1M369 970.5h1M369 972.5h1" stroke-linecap="butt"/>
<path d="M373.5 902V973" stroke-linecap="butt"/>
<path d="M373.8 963.2 L410 963.2 L413.8 963.8"/>
<path d="M373.8 963.2 L381.2 960.9 L381.2 965.6Z" fill="#000" stroke="#000" stroke-width="0.4"/>
<path d="M413.8 963.8 L406.2 966.1 L406.2 961.4Z" fill="#000" stroke="#000" stroke-width="0.4"/>
<path d="M105.5 990 L220 990 L412.5 990" stroke-width="1.5"/>
<path d="M105.5 990 L114.5 987.4 L114.5 992.6Z" fill="#000" stroke="#000" stroke-width="0.4"/>
<path d="M413.8 990 L404.8 992.6 L404.8 987.4Z" fill="#000" stroke="#000" stroke-width="0.4"/>
<path d="M414.2 926.2 L414.2 996.2"/>
<path d="M452.5 741.2 C452.9 745.2 454.1 757.3 455 765 C455.9 772.7 457.6 781.2 458 787.5 C458.4 793.8 458.4 796.2 457.5 802.5 C456.6 808.8 454.6 818.8 452.5 825 C450.4 831.2 448.3 835.4 445 840 C441.7 844.6 437.1 847.5 432.5 852.5 C427.9 857.5 422.1 863.3 417.5 870 C412.9 876.7 408.3 886.7 405 892.5 C401.7 898.3 400.4 901.7 397.5 905 C394.6 908.3 390.4 910.8 387.5 912.5 C384.6 914.2 382.1 914.2 380 915 C377.9 915.8 375.8 916.7 375 917"/>
<path d="M456.2 741.2 C456.7 745.2 457.9 757.3 458.8 765 C459.6 772.7 461 781.2 461.2 787.5 C461.5 793.8 461.5 796 460.5 802.5 C459.5 809 457.6 819.7 455.5 826.2 C453.4 832.8 451.3 837.3 448 842 C444.7 846.7 440.1 849.5 435.5 854.5 C430.9 859.5 425.1 865.5 420.5 872 C415.9 878.5 411.4 887.9 408 893.8 C404.6 899.6 403 903.5 400 907 C397 910.5 393.3 912.8 390 914.5 C386.7 916.2 382.5 916.9 380 917 C377.5 917.1 375.8 915.3 375 915"/>
<path d="M460 741.2 C460.4 746 461.7 761.9 462.5 770 C463.3 778.1 463.8 784.2 465 790 C466.2 795.8 468.7 800 470 805 C471.3 810 472.5 813.8 473 820 C473.5 826.2 473.5 837.5 473 842.5 C472.5 847.5 472.2 848 470 850 C467.8 852 463.8 852.8 460 854.5 C456.2 856.2 451.9 857.2 447.5 860 C443.1 862.8 437.9 866.9 433.8 871.2 C429.6 875.6 425.6 881 422.5 886.2 C419.4 891.5 416.9 897.3 415 902.5 C413.1 907.7 412.2 914.2 411.2 917.5 C410.3 920.8 409.8 921.7 409.5 922.5"/>
<path d="M452.5 736.2 L452.5 741.2"/>
<path d="M456.2 712.5 L457.5 725 L458.8 736.2 L460 741.2"/>
<path d="M465 792 L481.2 792"/>
<path d="M472.5 741.2 C472.7 744.4 472.9 754.2 473.8 760 C474.6 765.8 476.1 772.4 477.5 776.2 C478.9 780.1 481.2 781.9 482 783"/>
<path d="M495 708.8 L462.5 709.5 L461.2 712 L456.2 712.5"/>
<path d="M462.5 708.8 C467.9 708.8 485.4 708.5 495 708.8 C504.6 709 510.8 709.4 520 710 C529.2 710.6 543.3 711.7 550 712.5 C556.7 713.3 557.1 713.3 560 715 C562.9 716.7 565.8 721.2 567.5 722.5 C569.2 723.8 567.5 720.8 570 722.5 C572.5 724.2 578.3 728.5 582.5 732.5 C586.7 736.5 591.5 742.3 595 746.2 C598.5 750.2 603.8 753.1 603.8 756.2 C603.8 759.4 598.5 761.7 595 765 C591.5 768.3 586.7 772.9 582.5 776.2 C578.3 779.6 572.1 783.5 570 785"/>
<path d="M471.2 736.2 C471 734.4 469.8 727.9 470 725 C470.2 722.1 471 720.3 472.5 718.8 C474 717.2 474.2 716.3 478.8 715.8 C483.3 715.2 492.3 715.2 500 715.5 C507.7 715.8 517.5 716.8 525 717.5 C532.5 718.2 540 718.6 545 719.5 C550 720.4 552.1 721.5 555 723 C557.9 724.5 560.5 726.8 562.5 728.8 C564.5 730.8 566 733.3 567 735 C568 736.7 567.8 736.2 568.8 738.8 C569.7 741.2 571.6 746 572.5 750 C573.4 754 574.2 758.8 574.2 762.5 C574.2 766.2 573.6 769.6 572.5 772.5 C571.4 775.4 569 778.3 567.5 780 C566 781.7 564.4 782.1 563.8 782.5"/>
<path d="M567.5 735 L590 730 L627.5 722.5"/>
<path d="M568.8 739.2 L591.2 734.5 L630 726.2"/>
<path d="M630 724.5 L687.5 724.5" stroke-dasharray="5 3"/>
<path d="M630 725 L640 747.5 L650 770 L657.5 786.2"/>
<path d="M657.5 787.5 L685 787.5" stroke-dasharray="5 3"/>
<path d="M680 725.5 L680 786.5"/>
<path d="M680 725 L682.4 732.5 L677.6 732.5Z" fill="#000" stroke="#000" stroke-width="0.4"/>
<path d="M680 787 L677.6 779.5 L682.4 779.5Z" fill="#000" stroke="#000" stroke-width="0.4"/>
<path d="M657.5 787.5 L642.5 787.5 L641.2 790 L643.8 795 L643.8 800 L637.5 810 L620 832.5 L603.8 854.5"/>
<path d="M655.5 787.5 L655.5 854.5"/>
<path d="M595 857.5 L687.5 857.5" stroke-width="1.1"/>
<path d="M537.5 857 L595 857" stroke-dasharray="2 2"/>
<path d="M414.2 926.2 C414.8 924 415.7 917.7 417.5 912.5 C419.3 907.3 422.1 900.4 425 895 C427.9 889.6 431.2 884.4 435 880 C438.8 875.6 442.9 871.8 447.5 868.8 C452.1 865.8 457.1 863.7 462.5 862 C467.9 860.3 475 859.5 480 858.8 C485 858 490.4 857.7 492.5 857.5"/>
<path d="M467.5 857.5 L492.5 857.5" stroke-width="1.4"/>
<path d="M492.5 857.5 L530 857.5" stroke-dasharray="6 1.5 1 1.5"/>
<path d="M512.9 857.5 L512.5 858.8 L511.5 859.7 L510.2 859.9 L508.9 859.3 L508.2 858.2 L508.2 856.8 L508.9 855.7 L510.2 855.1 L511.5 855.3 L512.5 856.2Z" fill="#000"/>
<path d="M530 857.5 C531.7 857.8 535.8 858 540 859.5 C544.2 861 550.8 862.8 555 866.2 C559.2 869.7 562.5 876.2 565 880 C567.5 883.8 568.8 886.2 570 888.8 C571.2 891.2 571.5 892.9 572.5 895 C573.5 897.1 575 899.8 576.2 901.2 C577.5 902.7 579.4 903.3 580 903.8"/>
<path d="M530 857.5 L570 857.5" stroke-dasharray="2 2"/>
<path d="M545 862.5 L555 863.8" stroke-width="1.8"/>
<path d="M545 862.5 L595 858.8"/>
<path d="M467.5 800 C468.3 803.3 471.6 812.5 472.5 820 C473.4 827.5 473.4 839.8 473 845 C472.6 850.2 472.2 849.5 470 851.2 C467.8 853 463.8 854 460 855.5 C456.2 857 451.9 857.4 447.5 860 C443.1 862.6 437.9 866.9 433.8 871.2 C429.6 875.6 425.6 881 422.5 886.2 C419.4 891.5 416.9 897.3 415 902.5 C413.1 907.7 412.2 914.2 411.2 917.5 C410.3 920.8 409.8 921.7 409.5 922.5"/>
<path d="M484.5 744.2 L484.5 854.5"/>
<path d="M484.5 743.8 L486.9 751.2 L482.1 751.2Z" fill="#000" stroke="#000" stroke-width="0.4"/>
<path d="M484.5 855 L482.1 847.5 L486.9 847.5Z" fill="#000" stroke="#000" stroke-width="0.4"/>
<path d="M536.8 740.5 L536.8 854.5"/>
<path d="M536.8 740 L539.1 747.5 L534.4 747.5Z" fill="#000" stroke="#000" stroke-width="0.4"/>
<path d="M536.8 855 L534.4 847.5 L539.1 847.5Z" fill="#000" stroke="#000" stroke-width="0.4"/>
<path d="M580 903.8 L580 917.5 L642.5 917.5 L653.8 908.8 L654.5 900 L651.2 892.5 L652.5 878.8 L655 857.5"/>
<path d="M580 903.8 C581.5 903.5 587 904 588.8 902.5 C590.5 901 590.5 897.3 590.5 895 C590.5 892.7 590.3 891 588.8 888.8 C587.2 886.5 582.5 883.8 581.2 881.2 C580 878.8 580.4 875.6 581.2 873.8 C582.1 871.9 584.4 870.6 586.2 870 C588.1 869.4 589.8 869.1 592.5 870 C595.2 870.9 596.7 874.6 602.5 875.5 C608.3 876.4 619.2 874.8 627.5 875.5 C635.8 876.2 648.3 878.8 652.5 879.5"/>
<rect x="598" y="883.8" width="41.5" height="23.2" rx="4" ry="4" stroke-dasharray="1.5 0.8"/>
<path d="M642 860 L642.5 875 L647 875.5 L648 860"/>
<path d="M557.5 867.5 L565 880 L572.5 895"/>
</g>
<text class="dm" x="298.2" y="669.3" textLength="31.3" lengthAdjust="spacingAndGlyphs">1200</text>
<text class="dm" x="240.7" y="688" textLength="25.3" lengthAdjust="spacingAndGlyphs">458</text>
<text class="dm" x="490.2" y="794.6" textLength="23.3" lengthAdjust="spacingAndGlyphs">718</text>
<text class="dm" x="542.7" y="794.6" textLength="24.3" lengthAdjust="spacingAndGlyphs">726</text>
<text class="dm" x="652.7" y="762" textLength="25" lengthAdjust="spacingAndGlyphs">378</text>
<text class="dm" x="121.2" y="956.3" textLength="25.8" lengthAdjust="spacingAndGlyphs">325</text>
<text class="dm" x="245.7" y="956.3" textLength="32.8" lengthAdjust="spacingAndGlyphs">1230</text>
<text class="dm" x="381.7" y="956.3" textLength="25.3" lengthAdjust="spacingAndGlyphs">275</text>
<text class="dm" x="238.2" y="985.6" textLength="31.3" lengthAdjust="spacingAndGlyphs">1830</text>
</svg>
</body>
</html>
